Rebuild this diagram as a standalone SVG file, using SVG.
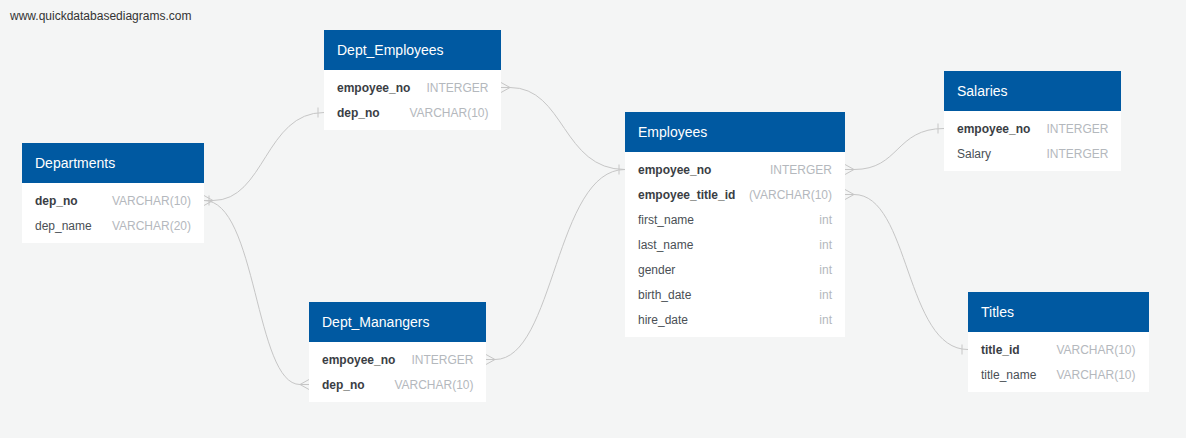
<svg xmlns="http://www.w3.org/2000/svg" width="1186" height="438" viewBox="0 0 1186 438">
<style>
.bg{fill:#f4f5f5}
.hd{fill:#0059a1}
.bd{fill:#ffffff}
.ht{font-family:"Liberation Sans",Arial,sans-serif;font-size:14px;fill:#ffffff}
.k{font-family:"Liberation Sans",Arial,sans-serif;font-size:12px;font-weight:bold;fill:#3a3e44}
.n{font-family:"Liberation Sans",Arial,sans-serif;font-size:12px;fill:#4a4f55}
.t{font-family:"Liberation Sans",Arial,sans-serif;font-size:12px;fill:#b4b8bd;text-anchor:end}
.w{font-family:"Liberation Sans",Arial,sans-serif;font-size:12px;fill:#333333}
.c{fill:none;stroke:#c6c6c6;stroke-width:1}
</style>
<rect class="bg" x="0" y="0" width="1186" height="438"/>
<text class="w" x="10" y="20">www.quickdatabasediagrams.com</text>

<g id="connectors">
  <!-- Departments.dep_no >- Dept_Employees.dep_no -->
  <path class="c" d="M213,200.5 C265,200.5 265,112.5 324,112.5"/>
  <path class="c" d="M204,195.5 L213,200.5 L204,205.5 M204,200.5 L213,200.5"/>
  <path class="c" d="M318,107.5 L318,117.5"/>
  <!-- Departments.dep_no -< Dept_Manangers.dep_no -->
  <path class="c" d="M204,200.5 C257,200.5 255,384.5 300,384.5"/>
  <path class="c" d="M209,195.5 L209,205.5"/>
  <path class="c" d="M309,379.5 L300,384.5 L309,389.5 M300,384.5 L309,384.5"/>
  <!-- Dept_Employees.empoyee_no >- Employees.empoyee_no -->
  <path class="c" d="M510,87.5 C565,87.5 562,169.5 625,169.5"/>
  <path class="c" d="M501,82.5 L510,87.5 L501,92.5 M501,87.5 L510,87.5"/>
  <!-- Dept_Manangers.empoyee_no >- Employees.empoyee_no -->
  <path class="c" d="M495,359.5 C555,359.5 555,169.5 625,169.5"/>
  <path class="c" d="M486,354.5 L495,359.5 L486,364.5 M486,359.5 L495,359.5"/>
  <path class="c" d="M619,164.5 L619,174.5"/>
  <!-- Employees.empoyee_no >- Salaries.empoyee_no -->
  <path class="c" d="M854,169.5 C900,169.5 895,128.5 944,128.5"/>
  <path class="c" d="M845,164.5 L854,169.5 L845,174.5 M845,169.5 L854,169.5"/>
  <path class="c" d="M938,123.5 L938,133.5"/>
  <!-- Employees.empoyee_title_id >- Titles.title_id -->
  <path class="c" d="M854,194.5 C910,194.5 905,349.5 968,349.5"/>
  <path class="c" d="M845,189.5 L854,194.5 L845,199.5 M845,194.5 L854,194.5"/>
  <path class="c" d="M962,344.5 L962,354.5"/>
</g>

<g id="Departments">
  <rect class="bd" x="22" y="143" width="182" height="100"/>
  <rect class="hd" x="22" y="143" width="182" height="40"/>
  <text class="ht" x="35" y="168">Departments</text>
  <text class="k" x="35" y="204.5">dep_no</text>
  <text class="t" x="191" y="204.5">VARCHAR(10)</text>
  <text class="n" x="35" y="229.5">dep_name</text>
  <text class="t" x="191" y="229.5">VARCHAR(20)</text>
</g>

<g id="Dept_Employees">
  <rect class="bd" x="324" y="30" width="177" height="100"/>
  <rect class="hd" x="324" y="30" width="177" height="40"/>
  <text class="ht" x="337" y="55">Dept_Employees</text>
  <text class="k" x="337" y="91.5">empoyee_no</text>
  <text class="t" x="488.5" y="91.5">INTERGER</text>
  <text class="k" x="337" y="116.5">dep_no</text>
  <text class="t" x="488.5" y="116.5">VARCHAR(10)</text>
</g>

<g id="Dept_Manangers">
  <rect class="bd" x="309" y="302" width="177" height="100"/>
  <rect class="hd" x="309" y="302" width="177" height="40"/>
  <text class="ht" x="322" y="327">Dept_Manangers</text>
  <text class="k" x="322" y="363.5">empoyee_no</text>
  <text class="t" x="473.5" y="363.5">INTERGER</text>
  <text class="k" x="322" y="388.5">dep_no</text>
  <text class="t" x="473.5" y="388.5">VARCHAR(10)</text>
</g>

<g id="Employees">
  <rect class="bd" x="625" y="112" width="220" height="225"/>
  <rect class="hd" x="625" y="112" width="220" height="40"/>
  <text class="ht" x="638" y="137">Employees</text>
  <text class="k" x="638" y="173.5">empoyee_no</text>
  <text class="t" x="832" y="173.5">INTERGER</text>
  <text class="k" x="638" y="198.5">empoyee_title_id</text>
  <text class="t" x="832" y="198.5">(VARCHAR(10)</text>
  <text class="n" x="638" y="223.5">first_name</text>
  <text class="t" x="832" y="223.5">int</text>
  <text class="n" x="638" y="248.5">last_name</text>
  <text class="t" x="832" y="248.5">int</text>
  <text class="n" x="638" y="273.5">gender</text>
  <text class="t" x="832" y="273.5">int</text>
  <text class="n" x="638" y="298.5">birth_date</text>
  <text class="t" x="832" y="298.5">int</text>
  <text class="n" x="638" y="323.5">hire_date</text>
  <text class="t" x="832" y="323.5">int</text>
</g>

<g id="Salaries">
  <rect class="bd" x="944" y="71" width="177" height="100"/>
  <rect class="hd" x="944" y="71" width="177" height="40"/>
  <text class="ht" x="957" y="96">Salaries</text>
  <text class="k" x="957" y="132.5">empoyee_no</text>
  <text class="t" x="1108.5" y="132.5">INTERGER</text>
  <text class="n" x="957" y="157.5">Salary</text>
  <text class="t" x="1108.5" y="157.5">INTERGER</text>
</g>

<g id="Titles">
  <rect class="bd" x="968" y="292" width="181" height="100"/>
  <rect class="hd" x="968" y="292" width="181" height="40"/>
  <text class="ht" x="981" y="317">Titles</text>
  <text class="k" x="981" y="353.5">title_id</text>
  <text class="t" x="1135.5" y="353.5">VARCHAR(10)</text>
  <text class="n" x="981" y="378.5">title_name</text>
  <text class="t" x="1135.5" y="378.5">VARCHAR(10)</text>
</g>
</svg>
